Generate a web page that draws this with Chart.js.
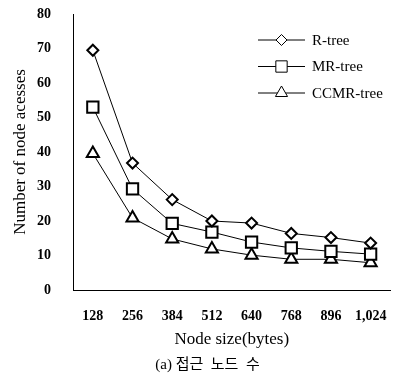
<!DOCTYPE html>
<html>
<head>
<meta charset="utf-8">
<script src="https://cdn.jsdelivr.net/npm/chart.js@4"></script>
<style>
  html, body { margin: 0; padding: 0; background: #fff; }
  #wrap { width: 405px; height: 378px; }
</style>
</head>
<body>
<div id="wrap"><canvas id="chart"></canvas></div>
<script>
// Data
const nodeSizes = ['128', '256', '384', '512', '640', '768', '896', '1,024'];
const rTree = [69.5, 36.8, 26.2, 20.0, 19.4, 16.4, 15.2, 13.6];
const mrTree = [53.0, 29.3, 19.3, 16.8, 13.9, 12.2, 11.2, 10.4];
const ccmrTree = [39.6, 20.9, 14.8, 11.9, 10.1, 8.9, 8.9, 7.9];
const yTicks = [0, 10, 20, 30, 40, 50, 60, 70, 80];

const serif = '"Liberation Serif", "Times New Roman", serif';
const markerSize = { rectRot: 5.5, rect: 8, triangle: 7 };

function series(label, data, style) {
    return {
        label: label,
        data: data,
        borderColor: '#000',
        borderWidth: 1,
        pointStyle: style,
        pointRadius: markerSize[style],
        pointBorderWidth: 2,
        pointBackgroundColor: '#fff',
        pointBorderColor: '#000',
        tension: 0,
        fill: false
    };
}

// Legend drawn inside the plot area (line + marker + label)
const insideLegend = {
    id: 'insideLegend',
    afterDatasetsDraw(chart) {
        const ctx = chart.ctx;
        const area = chart.chartArea;
        const x1 = area.left + 185, x2 = area.left + 232, tx = area.left + 239;
        chart.data.datasets.forEach((ds, i) => {
            const y = area.top + 26 + i * 26.5;
            ctx.save();
            ctx.strokeStyle = '#000';
            ctx.lineWidth = 1;
            ctx.beginPath();
            ctx.moveTo(x1, y);
            ctx.lineTo(x2, y);
            ctx.stroke();
            ctx.fillStyle = '#fff';
            Chart.helpers.drawPoint(ctx, {
                pointStyle: ds.pointStyle,
                radius: ds.pointRadius,
                borderWidth: ds.pointBorderWidth
            }, (x1 + x2) / 2, y);
            ctx.fillStyle = '#000';
            ctx.font = '15px ' + serif;
            ctx.textBaseline = 'middle';
            ctx.fillText(ds.label, tx, y + 1);
            ctx.restore();
        });
    }
};

const ctx = document.getElementById('chart').getContext('2d');

new Chart(ctx, {
    type: 'line',
    data: {
        labels: nodeSizes,
        datasets: [
            series('R-tree', rTree, 'rectRot'),
            series('MR-tree', mrTree, 'rect'),
            series('CCMR-tree', ccmrTree, 'triangle')
        ]
    },
    options: {
        responsive: true,
        maintainAspectRatio: false,
        animation: false,
        layout: { padding: { top: 14, right: 0, left: 10, bottom: 2 } },
        plugins: {
            legend: { display: false },
            tooltip: { enabled: false },
            subtitle: {
                display: true,
                position: 'bottom',
                text: '(a) 접근  노드  수',
                color: '#000',
                font: { family: serif + ', "Noto Sans CJK KR"', size: 15 },
                padding: { top: 0, bottom: 2 }
            }
        },
        scales: {
            x: {
                offset: true,
                grid: { display: false, drawTicks: false },
                border: { color: '#000', width: 1 },
                afterFit(scale) { scale.height = 66; },
                ticks: {
                    color: '#000',
                    padding: 18,
                    maxRotation: 0,
                    autoSkip: false,
                    font: { family: serif, size: 14, weight: 'bold' }
                },
                title: {
                    display: true,
                    text: 'Node size(bytes)',
                    color: '#000',
                    font: { family: serif, size: 17 },
                    padding: { top: 0, bottom: 6 }
                }
            },
            y: {
                min: 0,
                max: 80,
                afterBuildTicks(scale) {
                    scale.ticks = yTicks.map(v => ({ value: v }));
                },
                afterFit(scale) {
                    scale.width = 63;
                    scale.paddingTop = 0;
                    scale.paddingBottom = 0;
                },
                grid: { display: false, drawTicks: false },
                border: { color: '#000', width: 1 },
                ticks: {
                    color: '#000',
                    padding: 22,
                    font: { family: serif, size: 14, weight: 'bold' }
                },
                title: {
                    display: true,
                    text: 'Number of node acesses',
                    color: '#000',
                    font: { family: serif, size: 17 },
                    padding: { top: 0, bottom: 0 }
                }
            }
        }
    },
    plugins: [insideLegend]
});
</script>
</body>
</html>
